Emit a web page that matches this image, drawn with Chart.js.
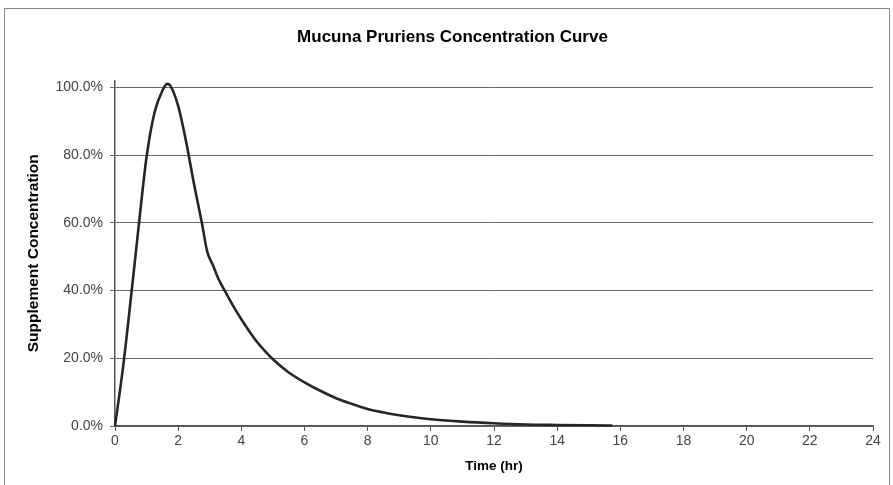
<!DOCTYPE html>
<html>
<head>
<meta charset="utf-8">
<title>Mucuna Pruriens Concentration Curve</title>
<script src="https://cdn.jsdelivr.net/npm/chart.js@4/dist/chart.umd.min.js"></script>
<style>
    html, body { margin: 0; padding: 0; background: #fff; }
    #wrap { width: 893px; height: 485px; }
</style>
</head>
<body>
<div id="wrap"><canvas id="concChart" width="893" height="485"></canvas></div>
<script>
// Chart Data
const TIME_HR = [0, 0.25, 0.5, 0.75, 1.0, 1.25, 1.5, 1.65, 1.75, 2.0, 2.25, 2.5, 2.75, 2.92, 3.1, 3.25, 3.5, 3.75,
    4.0, 4.25, 4.5, 4.75, 5.0, 5.5, 6.0, 6.5, 7.0, 7.5, 8.0, 8.5, 9.0, 10.0, 11.0, 12.0, 13.0, 14.0, 15.0, 15.75];
const CONCENTRATION_PCT = [0, 17, 37.5, 59, 79.5, 92.5, 99, 101, 100.5, 94.5, 84, 71.5, 60, 51.5, 47.5, 44, 39.5, 35.3,
    31.5, 28, 24.8, 22.1, 19.7, 15.8, 12.9, 10.4, 8.2, 6.5, 5.0, 4.0, 3.2, 2.0, 1.3, 0.8, 0.45, 0.3, 0.2, 0.15];
const X_TICKS = [0, 2, 4, 6, 8, 10, 12, 14, 16, 18, 20, 22, 24];
const Y_TICKS = [0, 20, 40, 60, 80, 100];
const TITLE = "Mucuna Pruriens Concentration Curve";

const FONT = "'Liberation Sans', Arial, sans-serif";

// Outer frame and the title, placed like the spreadsheet chart box
const framePlugin = {
    id: "frame",
    beforeDraw(chart) {
        const ctx = chart.ctx;
        ctx.save();
        ctx.fillStyle = "#ffffff";
        ctx.fillRect(0, 0, chart.width, chart.height);
        ctx.strokeStyle = "#8a8a8a";
        ctx.lineWidth = 1;
        ctx.strokeRect(4.5, 8.5, 885, 500);
        ctx.fillStyle = "#000";
        ctx.font = "bold 17px " + FONT;
        ctx.textAlign = "center";
        ctx.textBaseline = "middle";
        ctx.fillText(TITLE, 452.5, 37.5);
        ctx.restore();
    }
};

let concChart;

function createChart() {
    const ctx = document.getElementById("concChart").getContext("2d");
    const points = TIME_HR.map((t, i) => ({ x: t, y: CONCENTRATION_PCT[i] }));

    concChart = new Chart(ctx, {
        type: "line",
        data: {
            datasets: [{
                label: "Concentration",
                data: points,
                borderColor: "#262626",
                borderWidth: 2.6,
                pointRadius: 0,
                cubicInterpolationMode: "monotone",
                fill: false,
                clip: false,
            }],
        },
        options: {
            responsive: false,
            animation: false,
            layout: { padding: { left: 0, right: 20, top: 80.5, bottom: 0 } },
            plugins: {
                legend: { display: false },
                tooltip: { enabled: false },
                title: { display: false },
            },
            scales: {
                x: {
                    type: "linear",
                    min: 0,
                    max: 24,
                    afterBuildTicks: (scale) => { scale.ticks = X_TICKS.map(v => ({ value: v })); },
                    afterFit: (scale) => { scale.height = 59; },
                    ticks: {
                        color: "#444",
                        font: { family: FONT, size: 14 },
                        padding: 2,
                        maxRotation: 0,
                    },
                    grid: {
                        drawOnChartArea: false,
                        drawTicks: true,
                        tickLength: 5,
                        color: "#555",
                    },
                    border: { color: "#555", width: 1.5 },
                    title: {
                        display: true,
                        text: "Time (hr)",
                        color: "#000",
                        font: { family: FONT, size: 13.5, weight: "bold" },
                        padding: { top: 0, bottom: 11 },
                    },
                },
                y: {
                    min: 0,
                    max: 102,
                    afterBuildTicks: (scale) => { scale.ticks = Y_TICKS.map(v => ({ value: v })); },
                    afterFit: (scale) => { scale.width = 115; },
                    ticks: {
                        color: "#444",
                        font: { family: FONT, size: 14 },
                        padding: 7,
                        callback: (v) => v.toFixed(1) + "%",
                    },
                    grid: {
                        drawOnChartArea: true,
                        drawTicks: true,
                        tickLength: 5,
                        color: "#6a6a6a",
                    },
                    border: { color: "#555", width: 1.5 },
                    title: {
                        display: true,
                        text: "Supplement Concentration",
                        color: "#000",
                        font: { family: FONT, size: 15.5, weight: "bold" },
                        padding: { top: 24, bottom: 0 },
                    },
                },
            },
        },
        plugins: [framePlugin],
    });
}

// Initial Render
createChart();
</script>
</body>
</html>
